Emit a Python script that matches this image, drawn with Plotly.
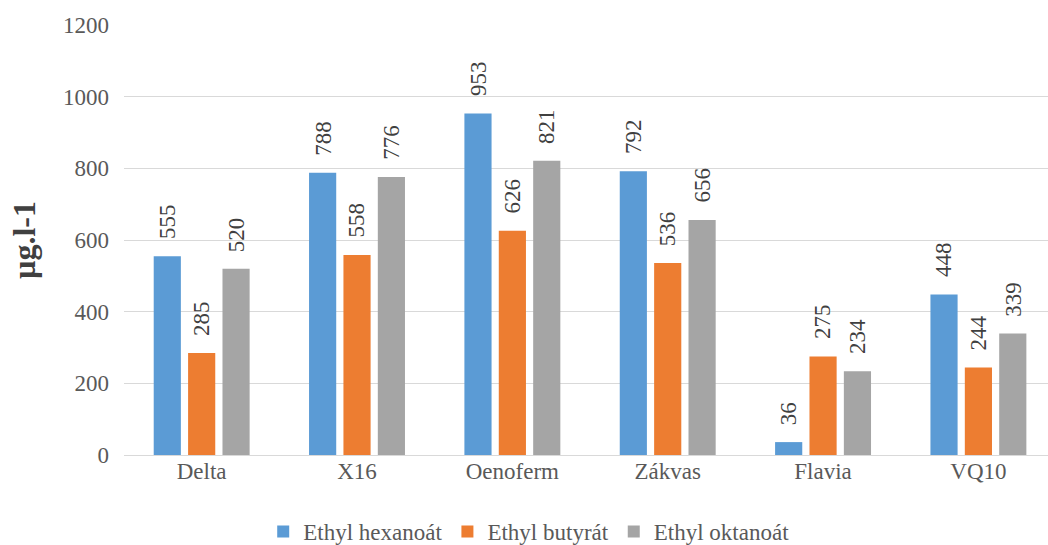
import plotly.graph_objects as go

categories = ["Delta", "X16", "Oenoferm", "Zákvas", "Flavia", "VQ10"]
hexanoat = [555, 788, 953, 792, 36, 448]
butyrat = [285, 558, 626, 536, 275, 244]
oktanoat = [520, 776, 821, 656, 234, 339]

series = [
    ("Ethyl hexanoát", hexanoat, "#5b9bd5"),
    ("Ethyl butyrát", butyrat, "#ed7d31"),
    ("Ethyl oktanoát", oktanoat, "#a5a5a5"),
]

font_family = "Liberation Serif"
FS = 23
slot_px = 34.3  # horizontal distance between bars within a group

fig = go.Figure()
annotations = []
for k, (name, vals, color) in enumerate(series):
    fig.add_trace(go.Bar(
        name=name, x=categories, y=vals,
        marker=dict(color=color, line=dict(width=0)),
    ))
    for cat, v in zip(categories, vals):
        annotations.append(dict(
            x=cat, y=v, xref="x", yref="y", text=str(v), showarrow=False,
            textangle=-90, xanchor="center", yanchor="bottom",
            xshift=(k - 1) * slot_px, yshift=15,
            font=dict(family=font_family, size=FS, color="#404040"),
        ))

fig.update_layout(
    width=1048, height=545,
    margin=dict(l=124, r=0, t=25, b=90, autoexpand=False),
    paper_bgcolor="white", plot_bgcolor="white",
    barmode="group", bargap=0.336, bargroupgap=0.21,
    font=dict(family=font_family, size=FS, color="#595959"),
    showlegend=True,
    legend=dict(orientation="h", x=0.438, xanchor="center", y=-0.228, yanchor="bottom",
                font=dict(family=font_family, size=FS, color="#595959"),
                itemwidth=30, tracegroupgap=0),
    annotations=annotations,
)
fig.update_xaxes(range=[-0.5, 5.448], showline=False, ticks="",
                 tickfont=dict(family=font_family, size=FS, color="#595959"))
fig.update_yaxes(range=[0, 1200], dtick=200, showgrid=True, gridcolor="#d9d9d9",
                 gridwidth=1, zeroline=True, zerolinecolor="#d9d9d9", zerolinewidth=1,
                 ticks="", ticklabelstandoff=14,
                 tickfont=dict(family=font_family, size=FS, color="#595959"),
                 title=dict(text="<b>µg.l-1</b>", standoff=17,
                            font=dict(family=font_family, size=32, color="#404040")))

fig.write_html("out.html")
